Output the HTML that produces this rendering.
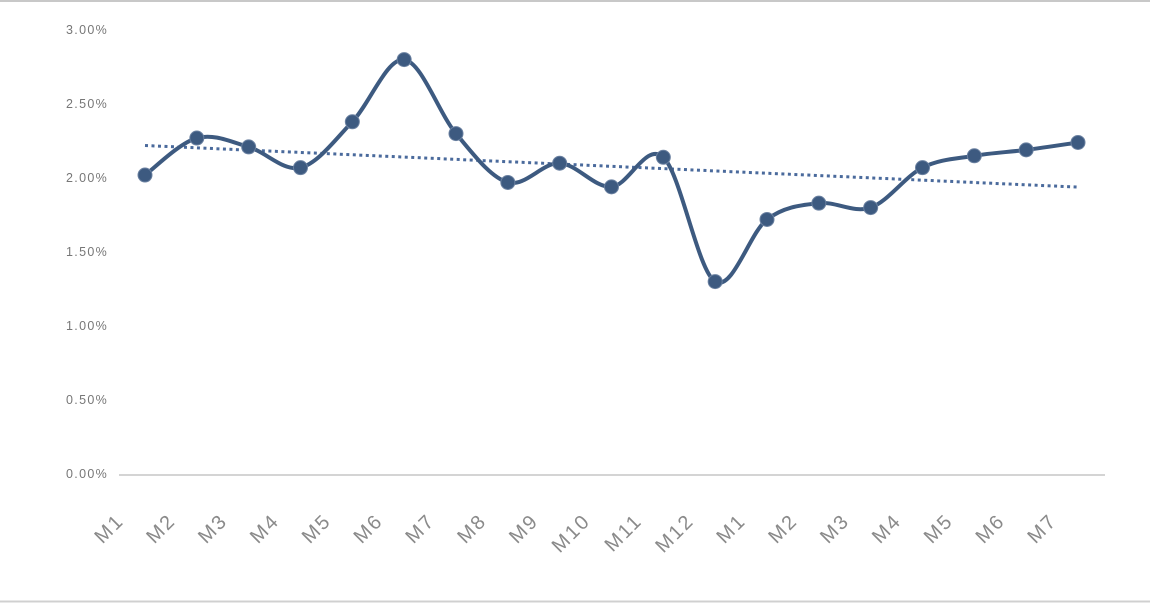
<!DOCTYPE html>
<html><head><meta charset="utf-8"><style>
html,body{margin:0;padding:0;background:#fff;}
svg{display:block;font-family:"Liberation Sans",sans-serif;}
</style></head><body>
<svg id="chart" width="1150" height="603">
<line x1="0" y1="1" x2="1150" y2="1" stroke="#c8c8c8" stroke-width="2"/>
<line x1="0" y1="601.5" x2="1150" y2="601.5" stroke="#d0d0d0" stroke-width="2"/>
<g id="yaxis"></g>
<g id="xaxis"></g>
<g id="plot"></g>
</svg>
<script>
const categories = ["M1","M2","M3","M4","M5","M6","M7","M8","M9","M10","M11","M12","M1","M2","M3","M4","M5","M6","M7"];
const values = [2.02,2.27,2.21,2.07,2.38,2.80,2.30,1.97,2.10,1.94,2.14,1.30,1.72,1.83,1.80,2.07,2.15,2.19,2.24];
const yTicks = [0,0.5,1,1.5,2,2.5,3];
const yTickLabels = ["0.00%","0.50%","1.00%","1.50%","2.00%","2.50%","3.00%"];

const NS="http://www.w3.org/2000/svg";
const x0=145, dx=(1078-145)/18, yBase=474, yTop=30;
const xs=i=>x0+i*dx;
const ys=v=>yBase-(v/3)*(yBase-yTop);
function mk(tag,attrs,parent){const e=document.createElementNS(NS,tag);for(const k in attrs)e.setAttribute(k,attrs[k]);parent.appendChild(e);return e;}
const yaxis=document.getElementById('yaxis'),xaxis=document.getElementById('xaxis'),plot=document.getElementById('plot');

yTicks.forEach((t,i)=>{
  const tx=mk('text',{x:108,y:ys(t)+4,'text-anchor':'end','font-size':12.5,fill:'#777','letter-spacing':'1.3'},yaxis);
  
  
  tx.textContent=yTickLabels[i];
});
const ax=mk('line',{x1:119,y1:yBase+1,x2:1105,y2:yBase+1,stroke:'#d4d4d4','stroke-width':2},xaxis);



categories.forEach((c,i)=>{
  const x=xs(i)-20,y=522;
  const tx=mk('text',{x:x,y:y,'text-anchor':'end','font-size':20,fill:'#8a8a8a','letter-spacing':'2',transform:`rotate(-45 ${x} ${y})`},xaxis);
  
  
  tx.textContent=c;
});

const n=values.length;let sx=0,sy=0,sxy=0,sxx=0;
values.forEach((v,i)=>{sx+=i;sy+=v;sxy+=i*v;sxx+=i*i;});
const slope=(n*sxy-sx*sy)/(n*sxx-sx*sx),inter=(sy-slope*sx)/n;
const tl=mk('line',{x1:xs(0),y1:ys(inter),x2:xs(n-1),y2:ys(inter+slope*(n-1)),stroke:'#4a6a9c','stroke-width':3,'stroke-dasharray':'3 3.5'},plot);



const P=values.map((v,i)=>[xs(i),ys(v)]);
let d=`M${P[0][0]},${P[0][1]}`;
for(let i=0;i<n-1;i++){
  const p0=P[Math.max(0,i-1)],p1=P[i],p2=P[i+1],p3=P[Math.min(n-1,i+2)];
  const c1=[p1[0]+(p2[0]-p0[0])/6,p1[1]+(p2[1]-p0[1])/6];
  const c2=[p2[0]-(p3[0]-p1[0])/6,p2[1]-(p3[1]-p1[1])/6];
  d+=` C${c1[0]},${c1[1]} ${c2[0]},${c2[1]} ${p2[0]},${p2[1]}`;
}
const ln=mk('path',{d:d,fill:'none',stroke:'#3d5a80','stroke-width':4,'stroke-linejoin':'round'},plot);


P.forEach(p=>{
  const c=mk('circle',{cx:p[0],cy:p[1],r:7,fill:'#3d5a80',stroke:'#6a80a0','stroke-width':1}, plot);
  
  
});
</script>
</body></html>
